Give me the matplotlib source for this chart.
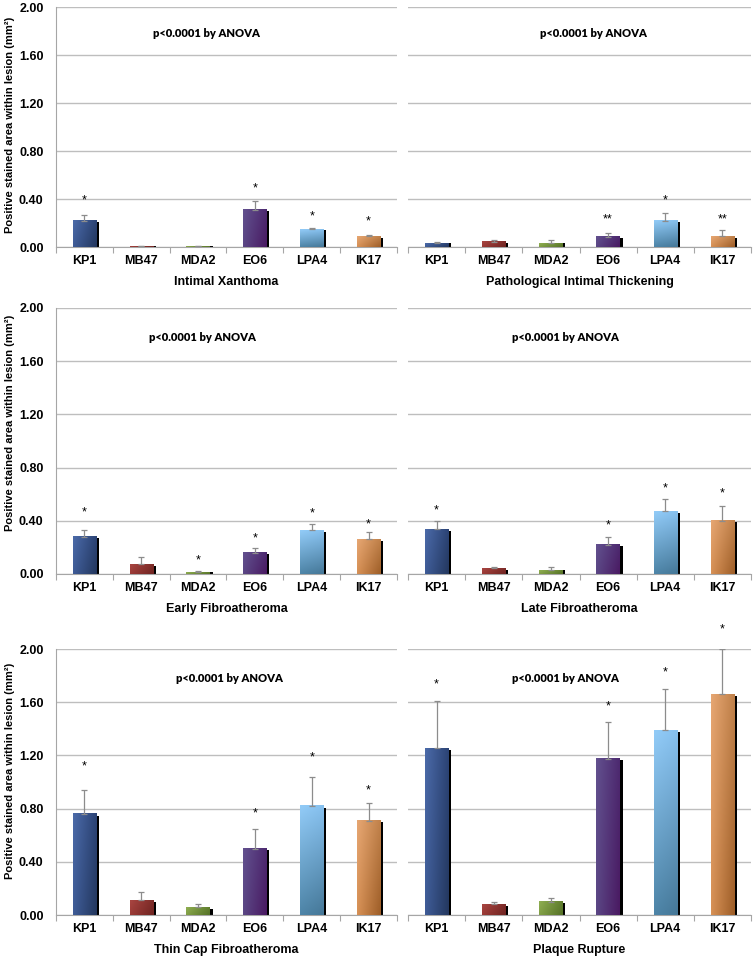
import matplotlib
matplotlib.use("Agg")
import matplotlib.pyplot as plt
from matplotlib.ticker import FixedLocator, NullFormatter
import numpy as np

plt.rcParams['font.family'] = ['Liberation Sans', 'DejaVu Sans']

categories = ["KP1", "MB47", "MDA2", "EO6", "LPA4", "IK17"]
lesions = ["Intimal Xanthoma", "Pathological Intimal Thickening",
           "Early Fibroatheroma", "Late Fibroatheroma",
           "Thin Cap Fibroatheroma", "Plaque Rupture"]

# mean positive stained area (mm2) per antibody, per lesion type
ix_mean = [0.22, 0.005, 0.005, 0.31, 0.15, 0.09]
ix_err = [0.05, 0.002, 0.002, 0.07, 0.01, 0.01]
ix_star = ["*", "", "", "*", "*", "*"]
ix_star_y = [0.43, 0, 0, 0.53, 0.29, 0.25]

pit_mean = [0.03, 0.045, 0.03, 0.085, 0.22, 0.09]
pit_err = [0.01, 0.015, 0.03, 0.035, 0.06, 0.05]
pit_star = ["", "", "", "**", "*", "**"]
pit_star_y = [0, 0, 0, 0.27, 0.43, 0.27]

ef_mean = [0.28, 0.075, 0.015, 0.16, 0.33, 0.26]
ef_err = [0.05, 0.055, 0.005, 0.035, 0.045, 0.055]
ef_star = ["*", "", "*", "*", "*", "*"]
ef_star_y = [0.50, 0, 0.14, 0.30, 0.49, 0.41]

lf_mean = [0.335, 0.045, 0.03, 0.22, 0.47, 0.40]
lf_err = [0.065, 0.005, 0.02, 0.06, 0.095, 0.11]
lf_star = ["*", "", "", "*", "*", "*"]
lf_star_y = [0.51, 0, 0, 0.40, 0.68, 0.64]

tcfa_mean = [0.76, 0.11, 0.06, 0.50, 0.82, 0.71]
tcfa_err = [0.18, 0.06, 0.02, 0.15, 0.22, 0.13]
tcfa_star = ["*", "", "", "*", "*", "*"]
tcfa_star_y = [1.15, 0, 0, 0.80, 1.22, 0.97]

pr_mean = [1.255, 0.08, 0.10, 1.175, 1.39, 1.66]
pr_err = [0.355, 0.02, 0.026, 0.275, 0.31, 0.34]
pr_star = ["*", "", "", "*", "*", "*"]
pr_star_y = [1.77, 0, 0, 1.60, 1.86, 2.18]

yticks = [0.0, 0.4, 0.8, 1.2, 1.6, 2.0]
anova_text = "p<0.0001 by ANOVA"

# gradient corners per bar: top-left, top-right, bottom-left, bottom-right
bar_colors = [
    ("#4B6AA8", "#2C4476", "#3E5B96", "#24385F"),
    ("#A84541", "#7E2C29", "#9A3A36", "#702522"),
    ("#8FAE52", "#62802F", "#809E45", "#567228"),
    ("#62508E", "#4D2A70", "#5A4684", "#4A1A62"),
    ("#92CBF7", "#86C0EE", "#4E85A8", "#467898"),
    ("#E6A672", "#C0814A", "#D69055", "#9E5E28"),
]


def gradient(c):
    tl, tr, bl, br = [np.array(matplotlib.colors.to_rgb(k)) for k in c]
    t = np.linspace(0, 1, 20)[None, :, None]
    s = np.linspace(0, 1, 40)[:, None, None]
    top = tl * (1 - t) + tr * t
    bot = bl * (1 - t) + br * t
    return top * (1 - s) + bot * s


def draw_panel(ax, means, errs, stars, star_y, title, anova_x, show_y):
    x = np.arange(len(categories))
    w = 0.41
    for i in x:
        h = means[i]
        ax.imshow(gradient(bar_colors[i]), extent=(i - w / 2, i + w / 2, 0, h),
                  aspect='auto', interpolation='bilinear', zorder=3)
        ax.bar(i + w / 2 + 0.025, h - 0.012 if h > 0.03 else h, width=0.05,
               color='black', zorder=2.5)
    ax.errorbar(x, means, yerr=[np.zeros(len(x)), errs], fmt='none',
                ecolor='#8C8C8C', elinewidth=0.9, capsize=2.2, capthick=0.9, zorder=4)
    for i in x:
        if stars[i]:
            ax.annotate(stars[i], (i, star_y[i]), xytext=(0, -5.5),
                        textcoords='offset points', ha='center', va='baseline',
                        fontsize=9, annotation_clip=False)
    ax.text(anova_x, 1.78, anova_text, ha='center', va='center', fontsize=8,
            fontweight='heavy', family=['Lato', 'DejaVu Sans'],
            transform=ax.get_yaxis_transform())
    ax.set_xlim(-0.5, 5.5)
    ax.set_ylim(0, 2.0)
    ax.set_yticks(yticks)
    ax.yaxis.grid(True, color='#BEBEBE', lw=1.0)
    ax.set_axisbelow(True)
    for side in ['top', 'right']:
        ax.spines[side].set_visible(False)
    ax.spines['bottom'].set_color('#A6A6A6')
    ax.spines['left'].set_color('#A6A6A6')
    ax.spines['left'].set_visible(show_y)
    ax.xaxis.set_major_locator(FixedLocator(np.arange(-0.5, 6, 1)))
    ax.xaxis.set_major_formatter(NullFormatter())
    ax.xaxis.set_minor_locator(FixedLocator(x))
    ax.set_xticklabels(categories, minor=True, fontsize=9, fontweight='bold')
    ax.tick_params(axis='x', which='major', length=4, color='#A6A6A6', direction='out')
    ax.tick_params(axis='x', which='minor', length=0, pad=6)
    if show_y:
        ax.set_yticklabels(["%.2f" % v for v in yticks], fontsize=9, fontweight='bold')
        ax.tick_params(axis='y', length=0, pad=9)
    else:
        ax.tick_params(axis='y', length=0, labelleft=False)
    ax.set_xlabel(title, fontsize=9, fontweight='bold', labelpad=6)


fig = plt.figure(figsize=(7.53, 9.57), dpi=100)
W, H = 753.0, 957.0
rows = [(247, 240), (574, 266), (915, 266)]
cols = [(56, 341), (408, 343)]

panels = [
    (ix_mean, ix_err, ix_star, ix_star_y, 0.44),
    (pit_mean, pit_err, pit_star, pit_star_y, 0.54),
    (ef_mean, ef_err, ef_star, ef_star_y, 0.43),
    (lf_mean, lf_err, lf_star, lf_star_y, 0.46),
    (tcfa_mean, tcfa_err, tcfa_star, tcfa_star_y, 0.51),
    (pr_mean, pr_err, pr_star, pr_star_y, 0.46),
]
label_y = [0.51, 0.57, 0.54]

for k, (m, e, s, sy, ax_x) in enumerate(panels):
    r, c = divmod(k, 2)
    bottom, height = rows[r]
    left, width = cols[c]
    ax = fig.add_axes([left / W, 1 - bottom / H, width / W, height / H])
    draw_panel(ax, m, e, s, sy, lesions[k], ax_x, c == 0)
    if c == 0:
        ax.set_ylabel("Positive stained area within lesion (mm²)", fontsize=8,
                      fontweight='bold')
        ax.yaxis.set_label_coords((15 - left) / width, label_y[r])

fig.savefig("out.png", dpi=100)
